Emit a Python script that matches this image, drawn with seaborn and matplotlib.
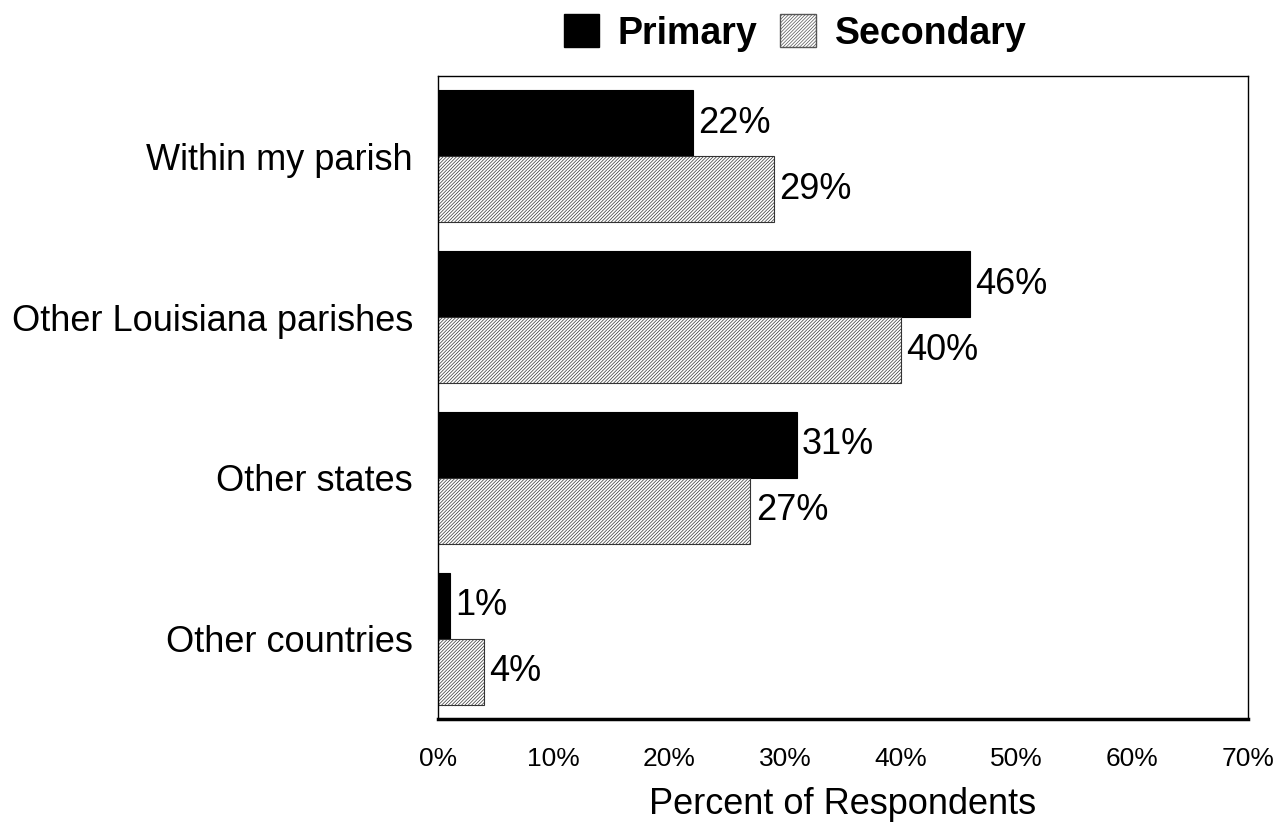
import matplotlib
matplotlib.use("Agg")
import matplotlib.pyplot as plt
import seaborn as sns
import pandas as pd
from matplotlib.patches import Patch

categories = ["Within my parish", "Other Louisiana parishes", "Other states", "Other countries"]
primary = [22, 46, 31, 1]
secondary = [29, 40, 27, 4]
series = ["Primary", "Secondary"]
xticks = [0, 10, 20, 30, 40, 50, 60, 70]

df = pd.DataFrame({
    "Location": categories * 2,
    "Value": primary + secondary,
    "Type": ["Primary"] * len(categories) + ["Secondary"] * len(categories),
})

sns.set_theme(style="white")
plt.rcParams["font.family"] = ["Liberation Sans", "DejaVu Sans"]
plt.rcParams["text.color"] = "black"
plt.rcParams["xtick.color"] = "black"
plt.rcParams["ytick.color"] = "black"
plt.rcParams["axes.labelcolor"] = "black"
plt.rcParams["hatch.color"] = "#808080"
plt.rcParams["hatch.linewidth"] = 0.5

HATCH = "//////////"

fig = plt.figure(figsize=(12.8, 8.33), dpi=100)
ax = fig.add_axes([438 / 1280, 1 - 719 / 833, (1248 - 438) / 1280, (719 - 76) / 833])

sns.barplot(data=df, y="Location", x="Value", hue="Type", orient="h",
            palette={"Primary": "black", "Secondary": "white"},
            order=categories, hue_order=series, width=0.82, gap=0,
            edgecolor="black", linewidth=0.8, ax=ax, legend=False)

for i, cont in enumerate(ax.containers):
    for bar, v in zip(cont, [primary, secondary][i]):
        if i == 1:
            bar.set_hatch(HATCH)
            if hasattr(bar, "set_hatchcolor"):
                bar.set_hatchcolor("#808080")
            bar.set_edgecolor("#333333")
        ax.text(bar.get_x() + bar.get_width() + 0.45, bar.get_y() + bar.get_height() / 2,
                f"{v}%", va="center", ha="left", fontsize=26)

ax.set_xlim(0, 70)
ax.set_ylim(3.5, -0.5)
ax.set_xticks(xticks)
ax.set_xticklabels([f"{t}%" for t in xticks], fontsize=19)
ax.tick_params(axis="x", length=0, pad=20)
ax.tick_params(axis="y", length=0, pad=18, labelsize=26)
ax.set_ylabel("")
ax.set_xlabel("Percent of Respondents", fontsize=26, labelpad=12)
for s in ax.spines.values():
    s.set_color("black")
    s.set_linewidth(1.0)
ax.spines["bottom"].set_linewidth(2.5)

h2 = Patch(facecolor="white", edgecolor="#555555", hatch=HATCH)
if hasattr(h2, "set_hatchcolor"):
    h2.set_hatchcolor("#808080")
handles = [Patch(facecolor="black", edgecolor="black"), h2]
fig.legend(handles, series, loc="center", bbox_to_anchor=(795 / 1280, 1 - 33 / 833),
           ncol=2, frameon=False, prop={"weight": "bold", "size": 27},
           handlelength=0.95, handleheight=0.95, handletextpad=0.5, columnspacing=0.6)

fig.savefig("out.png", dpi=100, facecolor="white")
